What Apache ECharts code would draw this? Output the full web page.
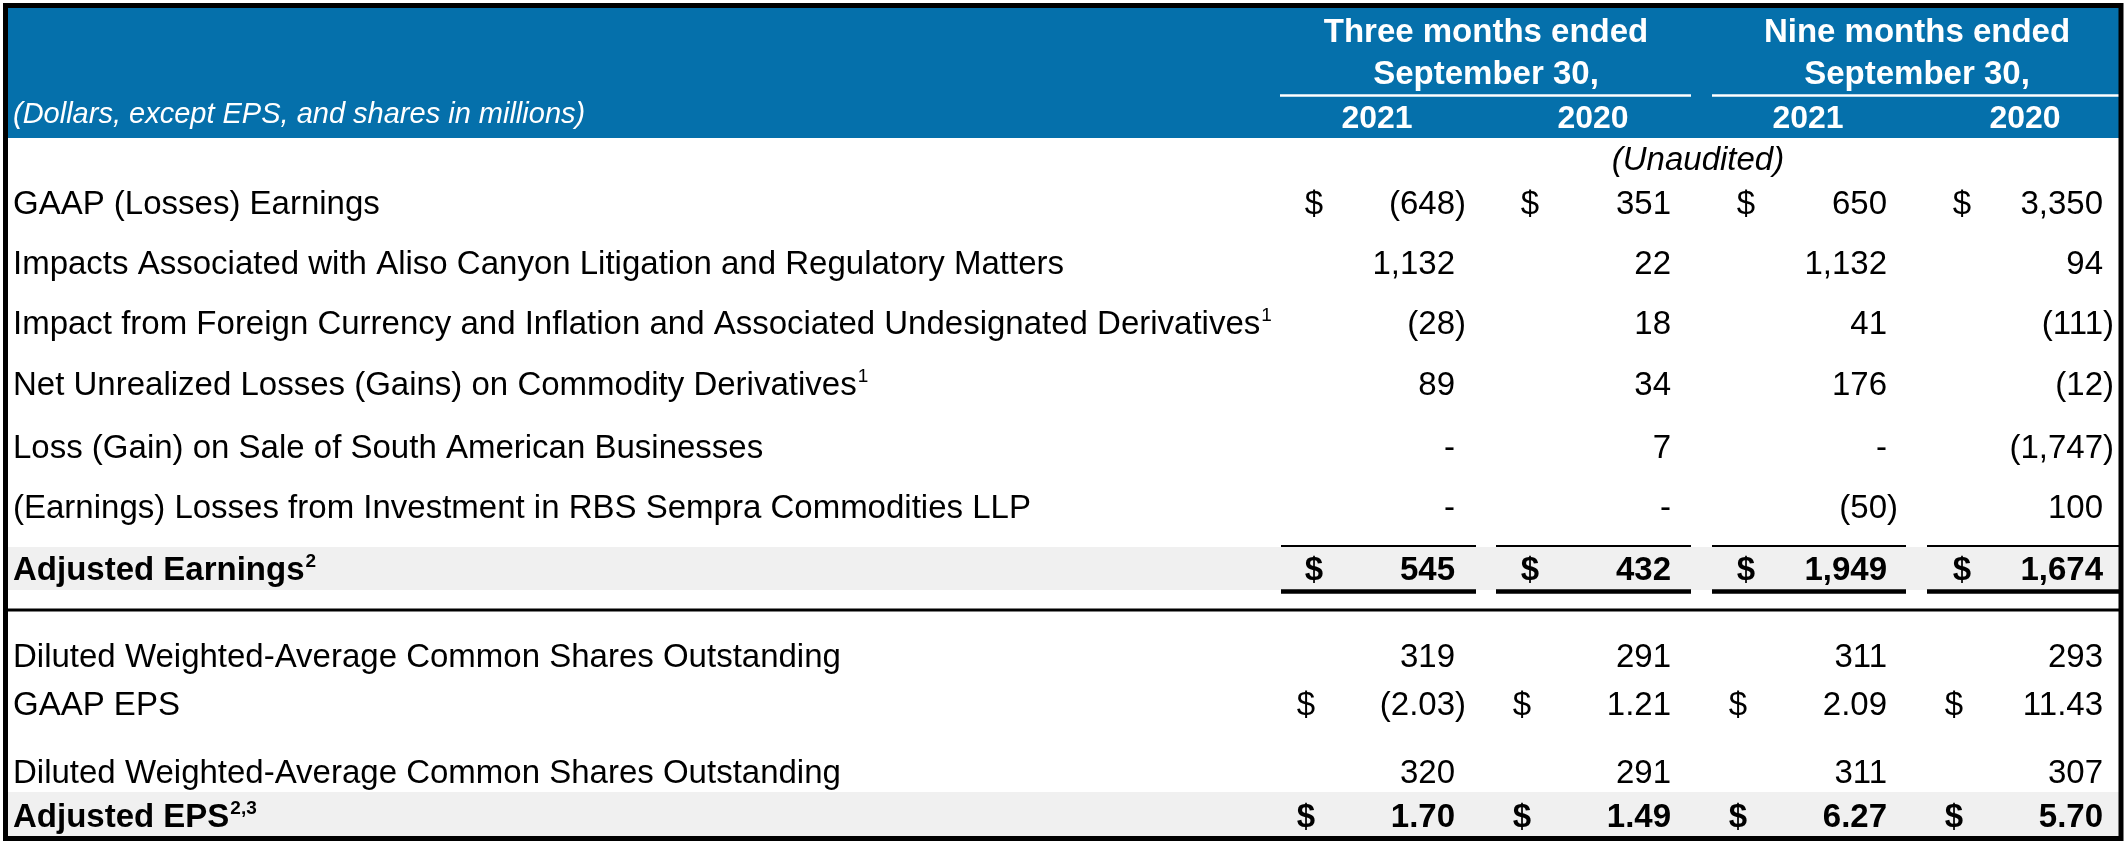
<!DOCTYPE html>
<html>
<head>
<meta charset="utf-8">
<script src="https://cdn.jsdelivr.net/npm/echarts@6/dist/echarts.min.js"></script>
<style>
html,body{margin:0;padding:0;background:#fff;}
#chart{width:2128px;height:845px;}
</style>
</head>
<body>
<div id="chart"></div>
<script>
// ---------- data ----------
const rowLabels = [
  'GAAP (Losses) Earnings',
  'Impacts Associated with Aliso Canyon Litigation and Regulatory Matters',
  'Impact from Foreign Currency and Inflation and Associated Undesignated Derivatives',
  'Net Unrealized Losses (Gains) on Commodity Derivatives',
  'Loss (Gain) on Sale of South American Businesses',
  '(Earnings) Losses from Investment in RBS Sempra Commodities LLP',
  'Adjusted Earnings',
  'Diluted Weighted-Average Common Shares Outstanding',
  'GAAP EPS',
  'Diluted Weighted-Average Common Shares Outstanding',
  'Adjusted EPS'
];
const rowNotes = ['', '', '1', '1', '', '', '2', '', '', '', '2,3'];
const q3_2021  = [-648, 1132, -28, 89, null, null, 545, 319, -2.03, 320, 1.70];
const q3_2020  = [351, 22, 18, 34, 7, null, 432, 291, 1.21, 291, 1.49];
const ytd_2021 = [650, 1132, 41, 176, null, -50, 1949, 311, 2.09, 311, 6.27];
const ytd_2020 = [3350, 94, -111, -12, -1747, 100, 1674, 293, 11.43, 307, 5.70];
const rowDecimals = [0, 0, 0, 0, 0, 0, 0, 0, 2, 0, 2];
const dollarRows = [true, false, false, false, false, false, true, false, true, false, true];
const totalRows  = [false, false, false, false, false, false, true, false, false, false, true];
const periodTitles = ['Three months ended', 'Nine months ended'];
const periodSubtitles = ['September 30,', 'September 30,'];
const yearLabels = ['2021', '2020', '2021', '2020'];
const unitNote = '(Dollars, except EPS, and shares in millions)';
const auditNote = '(Unaudited)';

// ---------- layout (pixel-based value axes) ----------
const W = 2128, H = 845;
const FAMILY = '"Liberation Sans", Arial, Helvetica, sans-serif';
const BLUE = '#0570AB';
const GRAY = '#F0F0F0';
const rowY = [205, 265, 325, 386, 449, 509, 571, 658, 706, 774, 818];
const epsDollarShift = [0, 0, 0, 0, 0, 0, 0, 0, -8, 0, -8];
const labelX = 13;
const dollarX = [1314, 1530, 1746, 1962];
const valueRight = [1455, 1671, 1887, 2103];
const yearX = [1377, 1593, 1808, 2025];
const periodX = [1486, 1917];
const headerLineY = [33, 75];
const yearY = 119;
const unitY = 115;
const auditX = 1698, auditY = 161;
const totalSegs = [[1281, 1476], [1496, 1691], [1712, 1906], [1927, 2119]];
const periodSegs = [[1280, 1691], [1712, 2119]];
const columns = [q3_2021, q3_2020, ytd_2021, ytd_2020];

const measureCtx = document.createElement('canvas').getContext('2d');
function textWidth(text, size, weight, style) {
  measureCtx.font = (style || 'normal') + ' ' + (weight || 'normal') + ' ' + size + 'px ' + FAMILY;
  return measureCtx.measureText(text).width;
}
function fmtNum(v, dec) {
  return Math.abs(v).toLocaleString('en-US', {minimumFractionDigits: dec, maximumFractionDigits: dec});
}
function txt(x, y, text, opt) {
  return {
    type: 'text', x: x, y: y,
    style: Object.assign({
      text: text, fill: '#000', fontSize: 33, fontFamily: FAMILY,
      fontWeight: 'normal', fontStyle: 'normal', align: 'left', verticalAlign: 'middle'
    }, opt || {})
  };
}

const chart = echarts.init(document.getElementById('chart'), null, {renderer: 'canvas'});

function renderDecor(params, api) {
  const P = (x, y) => api.coord([x, y]);
  const ch = [];
  const bands = [[547, 590], [792, 837]];
  bands.forEach(b => {
    const a = P(8, b[0]), c = P(2119, b[1]);
    ch.push({type: 'rect', shape: {x: a[0], y: a[1], width: c[0] - a[0], height: c[1] - a[1]}, style: {fill: GRAY}});
  });
  const h0 = P(8, 8), h1 = P(2119, 138);
  ch.push({type: 'rect', shape: {x: h0[0], y: h0[1], width: h1[0] - h0[0], height: h1[1] - h0[1]}, style: {fill: BLUE}});
  periodTitles.forEach((t, k) => {
    const p = P(periodX[k], headerLineY[0]);
    ch.push(txt(p[0], p[1], t, {fill: '#fff', fontWeight: 'bold', align: 'center'}));
    const q = P(periodX[k], headerLineY[1]);
    ch.push(txt(q[0], q[1], periodSubtitles[k], {fill: '#fff', fontWeight: 'bold', align: 'center'}));
    const s0 = P(periodSegs[k][0], 95.5), s1 = P(periodSegs[k][1], 95.5);
    ch.push({type: 'line', shape: {x1: s0[0], y1: s0[1], x2: s1[0], y2: s1[1]}, style: {stroke: '#fff', lineWidth: 2.5}});
  });
  yearLabels.forEach((t, k) => {
    const p = P(yearX[k], yearY);
    ch.push(txt(p[0], p[1], t, {fill: '#fff', fontWeight: 'bold', fontSize: 32, align: 'center'}));
  });
  const u = P(labelX, unitY);
  ch.push(txt(u[0], u[1], unitNote, {fill: '#fff', fontStyle: 'italic', fontSize: 29}));
  const au = P(auditX, auditY);
  ch.push(txt(au[0], au[1], auditNote, {fontStyle: 'italic', align: 'center'}));
  totalSegs.forEach(s => {
    const a = P(s[0], 546), b = P(s[1], 546);
    ch.push({type: 'line', shape: {x1: a[0], y1: a[1], x2: b[0], y2: b[1]}, style: {stroke: '#000', lineWidth: 2}});
    const c = P(s[0], 591.5), d = P(s[1], 591.5);
    ch.push({type: 'line', shape: {x1: c[0], y1: c[1], x2: d[0], y2: d[1]}, style: {stroke: '#000', lineWidth: 4.5}});
  });
  const s0 = P(5, 610), s1 = P(2121, 610);
  ch.push({type: 'line', shape: {x1: s0[0], y1: s0[1], x2: s1[0], y2: s1[1]}, style: {stroke: '#000', lineWidth: 3}});
  const f0 = P(5.5, 5.5), f1 = P(2121, 838.5);
  ch.push({type: 'rect', shape: {x: f0[0], y: f0[1], width: f1[0] - f0[0], height: f1[1] - f0[1]}, style: {fill: 'none', stroke: '#000', lineWidth: 5}});
  return {type: 'group', children: ch};
}

function renderRow(params, api) {
  const i = api.value(0);
  const P = (x, y) => api.coord([x, y]);
  const y = P(0, rowY[i])[1];
  const weight = totalRows[i] ? 'bold' : 'normal';
  const ch = [];
  const lx = P(labelX, 0)[0];
  ch.push(txt(lx, y, rowLabels[i], {fontWeight: weight}));
  if (rowNotes[i]) {
    const w = textWidth(rowLabels[i], 33, weight);
    ch.push(txt(lx + w + 1, y - 9, rowNotes[i], {fontWeight: weight, fontSize: 19}));
  }
  columns.forEach((col, c) => {
    const v = col[i];
    if (dollarRows[i]) {
      const dx = P(dollarX[c] + epsDollarShift[i], 0)[0];
      ch.push(txt(dx, y, '$', {fontWeight: weight, align: 'center'}));
    }
    const rx = P(valueRight[c], 0)[0];
    if (v === null) {
      ch.push(txt(rx, y, '-', {fontWeight: weight, align: 'right'}));
    } else {
      const s = fmtNum(v, rowDecimals[i]);
      if (v < 0) {
        ch.push(txt(rx, y, '(' + s, {fontWeight: weight, align: 'right'}));
        ch.push(txt(rx, y, ')', {fontWeight: weight, align: 'left'}));
      } else {
        ch.push(txt(rx, y, s, {fontWeight: weight, align: 'right'}));
      }
    }
  });
  return {type: 'group', children: ch};
}

chart.setOption({
  animation: false,
  backgroundColor: '#fff',
  grid: {left: 0, right: 0, top: 0, bottom: 0},
  xAxis: {type: 'value', min: 0, max: W, show: false},
  yAxis: {type: 'value', min: 0, max: H, inverse: true, show: false},
  series: [
    {type: 'custom', z: 1, silent: true, data: [[0, 0]], renderItem: renderDecor},
    {type: 'custom', z: 2, silent: true, data: rowLabels.map((_, i) => [i, 0]), renderItem: renderRow}
  ]
});
</script>
</body>
</html>
